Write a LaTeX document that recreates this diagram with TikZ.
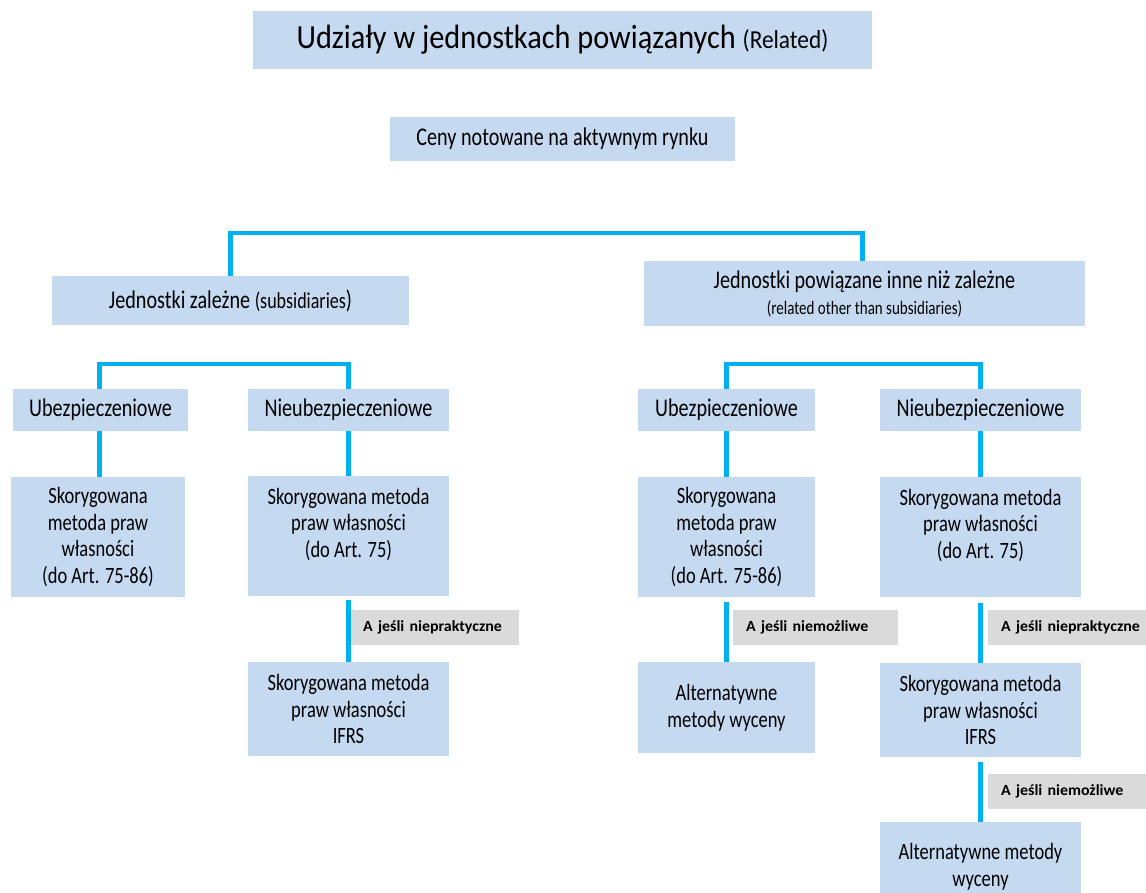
\documentclass[tikz,border=0pt]{standalone}
\usepackage{fontspec}
\setmainfont{Carlito}[FakeStretch=0.79]
\newfontfamily\titlefont{Carlito}[FakeStretch=0.9]
\newfontfamily\notefont{Carlito}[FakeStretch=1.03]
\newcommand\notestyle{\notefont\fontsize{15.5}{18}\selectfont\bfseries\spaceskip=0.2em\relax}
\definecolor{boxblue}{RGB}{197,217,241}
\definecolor{linkblue}{RGB}{0,176,240}
\definecolor{notegray}{RGB}{218,218,218}
\tikzset{
  box/.style={fill=boxblue, inner sep=0pt, align=center, font=\fontsize{23.4}{26.5}\selectfont},
  bigbox/.style={box, font=\fontsize{25.5}{30}\selectfont},
  link/.style={draw=linkblue, line width=4.8pt},
  note/.style={fill=notegray, anchor=west, inner xsep=13pt, inner ysep=0pt, minimum height=35pt, align=left, font=\notestyle},
}
\begin{document}
\begin{tikzpicture}[x=1pt, y=-1pt]
\useasboundingbox (0,0) rectangle (1146,892);
% naglowek
\node [box, minimum width=619, minimum height=58, font=\titlefont\fontsize{33.7}{38}\selectfont] (tytul) at (562.5,40) {Udziały w jednostkach powiązanych {\fontsize{25.9}{30}\selectfont(Related)}};
\node [bigbox, minimum width=345, minimum height=44] (ceny) at (562.5,139) {Ceny notowane na aktywnym rynku};
% poziom 1
\node [bigbox, minimum width=357, minimum height=49] (zal) at (230.5,300.5) {Jednostki zależne {\fontsize{22.8}{26}\selectfont(subsidiaries})};
\node [bigbox, minimum width=441, minimum height=65] (pow) at (864.5,293.5) {Jednostki powiązane inne niż zależne\\[-4pt]{\fontsize{19}{22}\selectfont(related other than subsidiaries)}};
% poziom 2
\node [bigbox, minimum width=175, minimum height=42] (ubL) at (100.5,410) {Ubezpieczeniowe};
\node [bigbox, minimum width=201, minimum height=42] (nubL) at (348.5,410) {Nieubezpieczeniowe};
\node [bigbox, minimum width=177, minimum height=42] (ubR) at (726.5,410) {Ubezpieczeniowe};
\node [bigbox, minimum width=201, minimum height=42] (nubR) at (980.5,410) {Nieubezpieczeniowe};
% metody
\node [box, minimum width=174, minimum height=120] (skL1) at (98,537) {Skorygowana\\metoda praw\\własności\\(do Art. 75-86)};
\node [box, minimum width=201, minimum height=120] (skL2) at (348.5,536) {Skorygowana metoda\\praw własności\\(do Art. 75)\\\mbox{}};
\node [box, minimum width=201, minimum height=94] (ifL) at (348.5,709) {Skorygowana metoda\\praw własności\\IFRS};
\node [box, minimum width=177, minimum height=120] (skR1) at (726.5,537) {Skorygowana\\metoda praw\\własności\\(do Art. 75-86)};
\node [box, minimum width=201, minimum height=120] (skR2) at (980.5,537) {Skorygowana metoda\\praw własności\\(do Art. 75)\\\mbox{}};
\node [box, minimum width=177, minimum height=91] (altR1) at (726.5,707.5) {Alternatywne\\metody wyceny};
\node [box, minimum width=201, minimum height=94] (ifR) at (980.5,710) {Skorygowana metoda\\praw własności\\IFRS};
\node [box, minimum width=201, minimum height=89] (altR2) at (980.5,866.5) {Alternatywne metody\\wyceny};
% warunki
\node [note, text width=143] (nL) at (350,627.5) {A jeśli niepraktyczne};
\node [note, text width=139] (nR1) at (733,627.5) {A jeśli niemożliwe};
\node [note, text width=150] (nR2) at (988,627.5) {A jeśli niepraktyczne};
\node [note, text width=150] (nR3) at (988,791.5) {A jeśli niemożliwe};
% polaczenia
\coordinate (gora) at (546,233);
\coordinate (lewa) at (224,364);
\coordinate (prawa) at (855,364);
\draw [link] (zal.north) |- (gora) -| ([xshift=-2pt]pow.north);
\draw [link] ([xshift=-1pt]ubL.north) |- (lewa) -| (nubL.north);
\draw [link] (ubR.north) |- (prawa) -| (nubR.north);
\draw [link] ([xshift=-1pt]ubL.south) -- ([xshift=-1pt]ubL.south |- skL1.north);
\draw [link] (nubL.south) -- (skL2.north);
\draw [link] (ubR.south) -- (skR1.north);
\draw [link] (nubR.south) -- (skR2.north);
\draw [link, shorten <=4pt] (skL2.south) -- (ifL.north);
\draw [link, shorten <=5pt] (skR1.south) -- (altR1.north);
\draw [link, shorten <=6pt] (skR2.south) -- (ifR.north);
\draw [link, shorten <=5pt] (ifR.south) -- (altR2.north);
\end{tikzpicture}
\end{document}
